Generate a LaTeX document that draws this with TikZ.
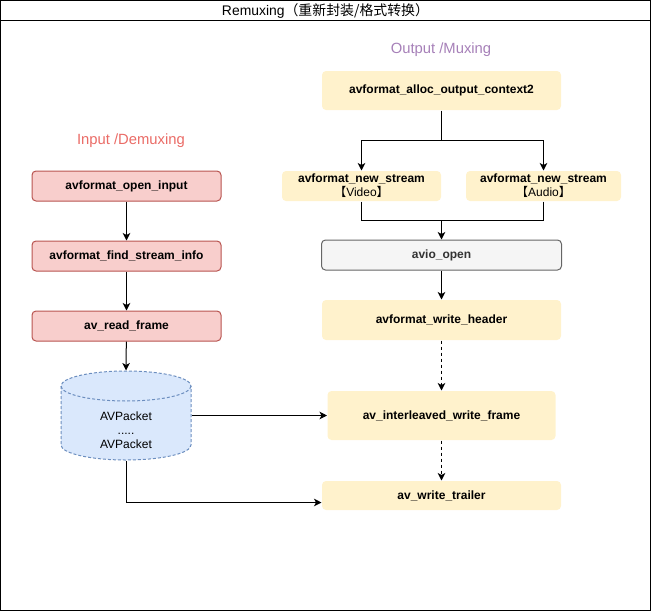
\documentclass[tikz,border=0pt]{standalone}
\usepackage{fontspec}
\setmainfont{Liberation Sans}
\newfontfamily\cjk{Noto Sans CJK SC}
\usepackage{tikz}
\usetikzlibrary{arrows.meta}
\usetikzlibrary{calc}
\definecolor{indraw}{HTML}{B85450}
\definecolor{infill}{HTML}{F8CECC}
\definecolor{intext}{HTML}{EA6B66}
\definecolor{outfill}{HTML}{FFF2CC}
\definecolor{outtext}{HTML}{A680B8}
\definecolor{iodraw}{HTML}{666666}
\definecolor{iofill}{HTML}{F5F5F5}
\definecolor{iotext}{HTML}{333333}
\definecolor{pktdraw}{HTML}{6C8EBF}
\definecolor{pktfill}{HTML}{DAE8FC}

\begin{document}
\begin{tikzpicture}[x=1pt, y=-1pt, line width=1pt,
		>={Stealth[length=7.5pt, width=7.5pt, inset=2pt]},
		inbox/.style={rectangle, rounded corners=4pt, draw=indraw, fill=infill, minimum width=189pt, minimum height=30pt, inner sep=0pt, font=\bfseries\fontsize{12}{14}\selectfont},
		outbox/.style={rectangle, rounded corners=4pt, fill=outfill, minimum width=239pt, minimum height=30pt, inner sep=0pt, align=center, font=\bfseries\fontsize{12}{14}\selectfont},
		lbl/.style={font=\fontsize{14.8}{17}\selectfont, inner sep=0pt}]
				\useasboundingbox (0,0) rectangle (651,611);
				\draw (0.5,0.5) rectangle (650.5,610.5);
				\draw (0.5,20.5) -- (650.5,20.5);
				\node[font=\fontsize{13.9}{16}\selectfont, inner sep=0pt] (13) at (325.5,10.5) {Remuxing{\cjk （重新封装/格式转换）}};
				
				\node[lbl, text=intext] (11) at (131,141) {Input /Demuxing};
				\node[lbl, text=outtext] (12) at (441,50) {Output /Muxing};
				
				\node[inbox] (0) at (126.5,186) {avformat\_open\_input};
				\node[inbox] (1) at (126.5,256) {avformat\_find\_stream\_info};
				\node[inbox] (2) at (126.5,326) {av\_read\_frame};
				
				% packet buffer
				\fill[pktfill] (61,386) arc[start angle=180, end angle=360, x radius=65, y radius=15] -- (191,445) arc[start angle=0, end angle=180, x radius=65, y radius=15] -- cycle;
				\draw[pktdraw, dashed, dash pattern=on 3pt off 2pt] (126,386) ellipse[x radius=65, y radius=15];
				\draw[pktdraw, dashed, dash pattern=on 3pt off 2pt] (61,386) -- (61,445) arc[start angle=180, end angle=0, x radius=65, y radius=15] -- (191,386);
				\node[minimum width=130pt, minimum height=59pt, inner sep=0pt, align=center, font=\fontsize{12}{14}\selectfont] (3) at (126,430.5) {AVPacket\\.....\\AVPacket};
				
				\node[outbox, minimum height=39pt] (4) at (441.5,90.5) {avformat\_alloc\_output\_context2};
				\node[outbox, minimum width=159pt] (5) at (361.5,186) {avformat\_new\_stream\\{\mdseries{\cjk 【}Video{\cjk 】}}};
				\node[outbox, minimum width=155pt] (6) at (543.5,186) {avformat\_new\_stream\\{\mdseries{\cjk 【}Audio{\cjk 】}}};
				\node[outbox, minimum width=240pt, draw=iodraw, fill=iofill, text=iotext] (7) at (441.5,255) {avio\_open};
				\node[outbox, minimum height=40pt] (8) at (441.5,320) {avformat\_write\_header};
				\node[outbox, minimum width=228pt, minimum height=49pt] (9) at (441.5,415.5) {av\_interleaved\_write\_frame};
				\node[outbox, minimum height=29pt] (10) at (441.5,495.5) {av\_write\_trailer};
				
				\coordinate (j1) at (441.5,140.5);
				\coordinate (j2) at (441.5,220.5);
				
				\draw[->] (0) -- (1);
				\draw[->] (1) -- (2);
				\draw[->] (2) -- ($(3.north)+(0,-30)$);
				\draw[->] (3.east |- 9.west) -- (9.west);
				\draw[->] (3.south) |- ([yshift=-7pt]10.west);
				
				\draw (4.south) -- (j1);
				\draw[->] (j1) -| (5.north);
				\draw[->] (j1) -| (6.north);
				\draw (5.south) |- (j2);
				\draw (6.south) |- (j2);
				\draw[->] (j2) -- (7.north);
				\draw[->] (7) -- (8);
				\draw[->, dashed, dash pattern=on 3pt off 3pt] (8) -- (9);
				\draw[->, dashed, dash pattern=on 3pt off 3pt] (9) -- (10);
			\end{tikzpicture}
\end{document}
